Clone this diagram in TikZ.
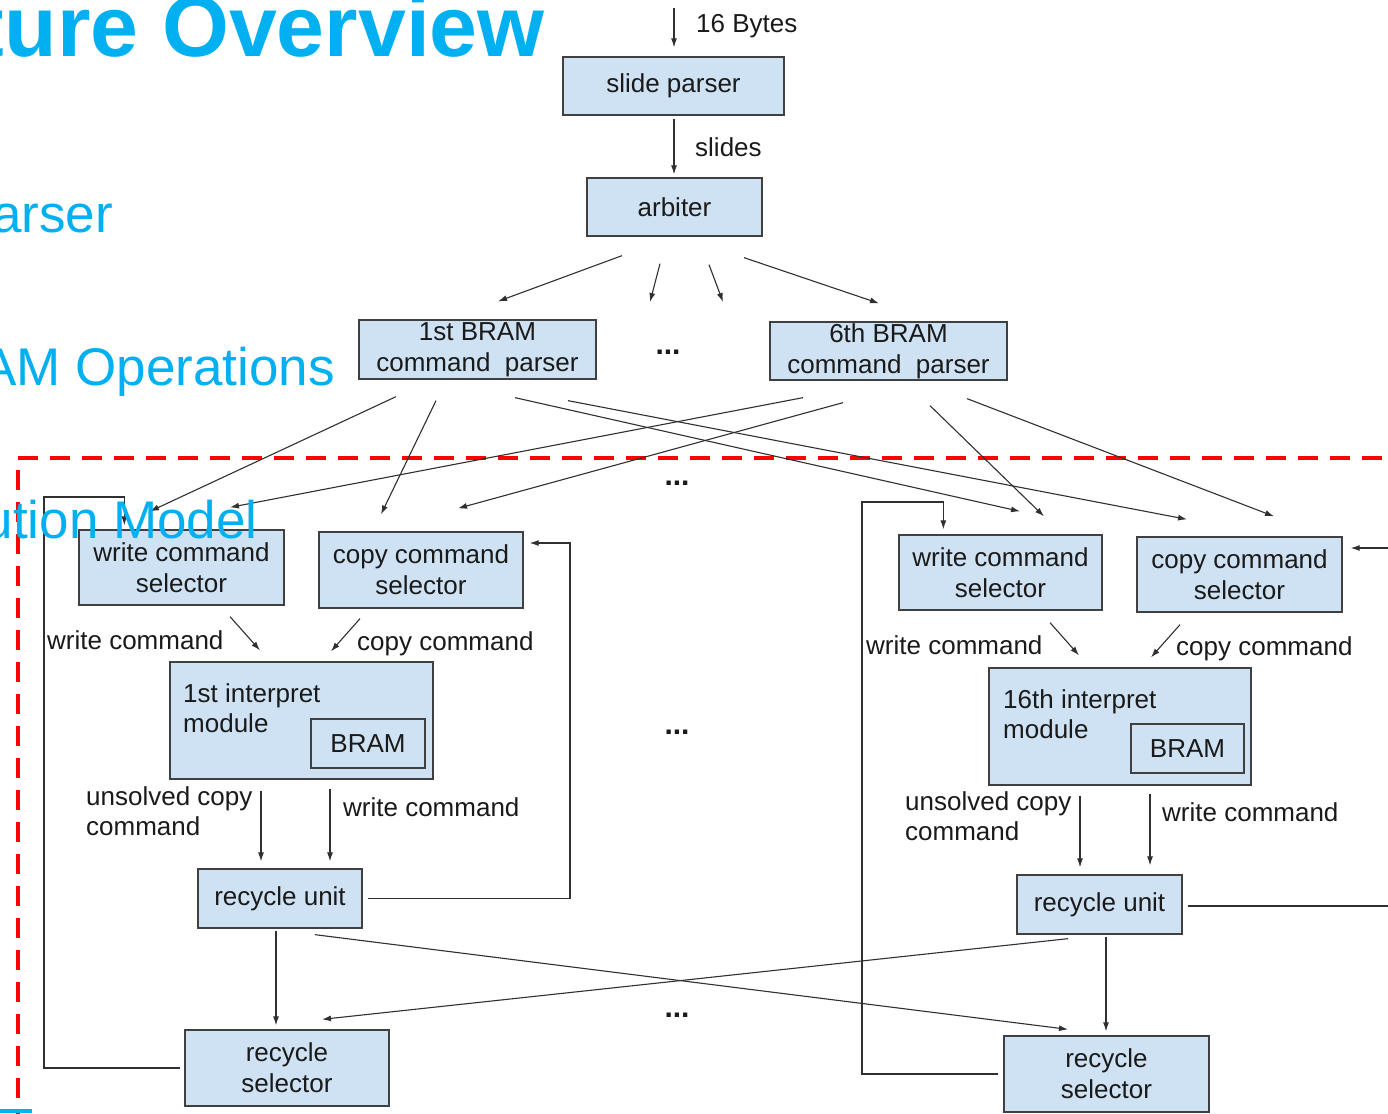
\documentclass[tikz,border=0pt]{standalone}
\usepackage{fontspec}
\setmainfont{Liberation Sans}
\usetikzlibrary{arrows.meta,calc}
\definecolor{boxfill}{HTML}{CFE2F3}
\definecolor{boxline}{HTML}{404040}
\definecolor{lineclr}{HTML}{303030}
\definecolor{txt}{HTML}{1A1A1A}
\definecolor{slideblue}{HTML}{00B0F0}
\definecolor{dashred}{HTML}{FF0000}
\tikzset{
  box/.style={draw=boxline, line width=1.3pt, fill=boxfill, inner sep=0pt, align=center, text=txt, font=\fontsize{26}{31}\selectfont},
  lbl/.style={inner sep=0pt, text=txt, font=\fontsize{26}{30}\selectfont, anchor=base west},
  mlbl/.style={inner sep=0pt, text=txt, font=\fontsize{26}{30}\selectfont, anchor=west, align=left},
  arr/.style={draw=lineclr, line width=1.1pt, -{Latex[length=9pt,width=6pt]}},
  ln/.style={draw=lineclr, line width=1.1pt},
  dots/.style={font=\bfseries\fontsize{30}{30}\selectfont, text=txt, inner sep=0pt},
  slidetxt/.style={text=slideblue, inner sep=0pt, anchor=base east},
  redframe/.style={draw=dashred, line width=3.5pt, dash pattern=on 20pt off 12pt},
}
\begin{document}
\begin{tikzpicture}[x=1pt,y=-1pt]
\useasboundingbox (0,0) rectangle (1388,1113);
\clip (0,0) rectangle (1388,1113);
\fill[white] (0,0) rectangle (1388,1113);

% red dashed frame
\coordinate (rfA) at (18,1130);
\coordinate (rfB) at (18,458);
\coordinate (rfC) at (1400,458);
\draw[redframe] (rfA) -- (rfB) -- (rfC);

% boxes
\node[box, minimum width=221pt, minimum height=58pt] (sp) at (673.5,86) {\raisebox{-2.5pt}{slide parser}};
\node[box, minimum width=175pt, minimum height=58pt] (arb) at (674.5,207) {\raisebox{-1.5pt}{arbiter}};
\node[box, minimum width=237pt, minimum height=59pt] (p1) at (477.5,349.5) {1st BRAM\\command\ \ parser};
\node[box, minimum width=237pt, minimum height=58pt] (p6) at (888.5,351) {6th BRAM\\command\ \ parser};

\node[box, minimum width=205pt, minimum height=75pt] (ws1) at (181.5,567.5) {write command\\selector};
\node[box, minimum width=204pt, minimum height=76pt] (cs1) at (421,570) {copy command\\selector};
\node[box, minimum width=263pt, minimum height=117pt] (im1) at (301.5,720.5) {};
\node[box, minimum width=114pt, minimum height=49pt] (bram1) at (368,743.5) {\raisebox{-1.5pt}{BRAM}};
\node[mlbl] (im1t) at (183,708) {1st interpret\\module};
\node[box, minimum width=164pt, minimum height=59pt] (ru1) at (280,898.5) {\raisebox{-2.5pt}{recycle unit}};
\node[box, minimum width=204pt, minimum height=76pt] (rs1) at (287,1068) {recycle\\selector};

\node[box, minimum width=203pt, minimum height=75pt] (ws2) at (1000.5,572.5) {write command\\selector};
\node[box, minimum width=205pt, minimum height=75pt] (cs2) at (1239.5,574.5) {copy command\\selector};
\node[box, minimum width=262pt, minimum height=117pt] (im2) at (1120,726.5) {};
\node[box, minimum width=113pt, minimum height=49pt] (bram2) at (1187.5,748.5) {\raisebox{-1.5pt}{BRAM}};
\node[mlbl] (im2t) at (1003,714) {16th interpret\\module};
\node[box, minimum width=165pt, minimum height=59pt] (ru2) at (1099.5,904.5) {\raisebox{-2.5pt}{recycle unit}};
\node[box, minimum width=205pt, minimum height=76pt] (rs2) at (1106.5,1074) {recycle\\selector};

% labels
\node[lbl] (l16) at (696,33) {16 Bytes};
\node[lbl] (lsl) at (695,156) {slides};
\node[lbl] (lw1) at (47,649) {write command};
\node[lbl] (lc1) at (357,650) {copy command};
\node[mlbl] (lu1) at (86,811) {unsolved copy\\command};
\node[lbl] (lw1b) at (343,816) {write command};
\node[lbl] (lw2) at (866,654) {write command};
\node[lbl] (lc2) at (1176,655) {copy command};
\node[mlbl] (lu2) at (905,816) {unsolved copy\\command};
\node[lbl] (lw2b) at (1162,821) {write command};

% dots
\node[dots] (d1) at (668,352) {...};
\node[dots] (d2) at (677,483) {...};
\node[dots] (d3) at (677,732) {...};
\node[dots] (d4) at (677,1015) {...};

% top arrows
\coordinate (in16) at (674,8);
\draw[arr] (in16) -- ($(sp.north)+(0.5,-9)$);
\draw[arr] ($(sp.south)+(0.5,3)$) -- ($(arb.north)+(-0.5,-3)$);

% arbiter fan-out
\draw[arr] ($(arb.south)+(-52.5,19)$) -- ($(p1.north)+(20.5,-18)$);
\draw[arr] ($(arb.south)+(-14.5,27)$) -- (650,302);
\draw[arr] ($(arb.south)+(34.5,28)$) -- (723,302);
\draw[arr] ($(arb.south)+(69.5,21)$) -- ($(p6.north)+(-9.5,-18)$);

% parser outputs
\draw[arr] ($(p1.south)+(-81.5,17)$) -- ($(ws1.north)+(-31.5,-18)$);
\draw[arr] ($(p1.south)+(-41.5,21)$) -- ($(cs1.north)+(-40,-17)$);
\draw[arr] ($(p1.south)+(37.5,18)$) -- ($(ws2.north)+(19.5,-23)$);
\draw[arr] ($(p1.south)+(90.5,21)$) -- ($(cs2.north)+(-52.5,-17)$);
\draw[arr] ($(p6.south)+(-85.5,17)$) -- ($(ws1.north)+(48.5,-22)$);
\draw[arr] ($(p6.south)+(-45.5,22)$) -- ($(cs1.north)+(37,-23)$);
\draw[arr] ($(p6.south)+(41.5,25)$) -- ($(ws2.north)+(43.5,-18)$);
\draw[arr] ($(p6.south)+(78.5,18)$) -- ($(cs2.north)+(34.5,-20)$);

% left group
\draw[arr] ($(ws1.south)+(48.5,11)$) -- ($(im1.north)+(-41.5,-11)$);
\draw[arr] ($(cs1.south)+(-61,10)$) -- ($(im1.north)+(29.5,-10)$);
\draw[arr] ($(im1.south)+(-40.5,11)$) -- ($(ru1.north)+(-19,-7)$);
\draw[arr] ($(im1.south)+(28.5,9)$) -- ($(ru1.north)+(50,-7)$);
\draw[arr] ($(ru1.south)+(-4,2)$) -- ($(rs1.north)+(-11,-4)$);
\draw[arr] ($(ru1.east)+(5,0)$) -| (570,543) -- ($(cs1.east)+(6,-27)$);
\draw[arr] ($(rs1.west)+(-4,0)$) -| (44,497) -| ($(ws1.north west)+(46,-4)$);

% right group
\draw[arr] ($(ws2.south)+(49.5,12)$) -- ($(im2.north)+(-41,-12)$);
\draw[arr] ($(cs2.south)+(-59.5,12)$) -- ($(im2.north)+(31,-10)$);
\draw[arr] ($(im2.south)+(-40,10)$) -- ($(ru2.north)+(-19.5,-7)$);
\draw[arr] ($(im2.south)+(30,8)$) -- ($(ru2.north)+(50.5,-9)$);
\draw[arr] ($(ru2.south)+(6.5,2)$) -- ($(rs2.north)+(-0.5,-4)$);
\coordinate (ru2out) at (1400,906);
\draw[ln] ($(ru2.east)+(5,1.5)$) -- (ru2out);
\coordinate (cs2in) at (1400,548);
\draw[arr] (cs2in) -- ($(cs2.east)+(8,-26.5)$);
\draw[arr] ($(rs2.west)+(-5,0)$) -| (862,502) -| ($(ws2.north west)+(45,-5)$);

% crossing recycle lines
\draw[arr] ($(ru1.south)+(35,6)$) -- ($(rs2.north)+(-38.5,-6)$);
\draw[arr] ($(ru2.south)+(-31.5,4)$) -- ($(rs1.north)+(35,-10)$);

% slide text (background slide)
\node[slidetxt, font=\bfseries\fontsize{86}{90}\selectfont] (title) at (545,57) {ture Overview};
\node[slidetxt, font=\fontsize{53}{60}\selectfont] (s1) at (113,232) {arser};
\node[slidetxt, font=\fontsize{53}{60}\selectfont] (s2) at (335,385) {AM Operations};
\node[slidetxt, font=\fontsize{53}{60}\selectfont] (s3) at (258,538) {ution Model};
\fill[slideblue] (0,1109) rectangle (32,1113);
\end{tikzpicture}
\end{document}
